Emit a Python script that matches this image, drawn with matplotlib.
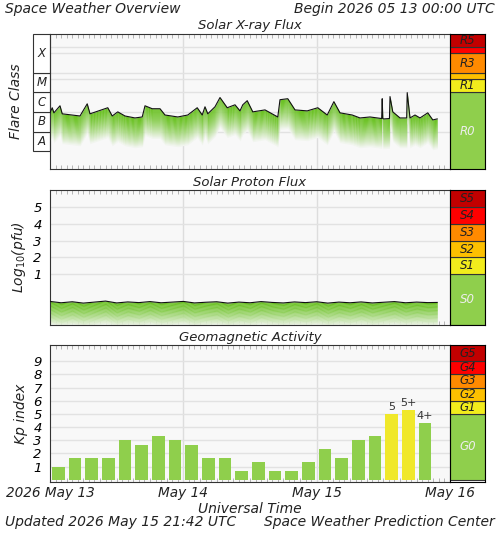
import numpy as np
import matplotlib
matplotlib.use('Agg')
import matplotlib.pyplot as plt
from matplotlib.patches import Rectangle
import matplotlib.transforms as mtrans

# X-ray flux, log10(W/m2), hours since 2026-05-13 00:00
xray_hours = [0, 0.4, 0.7, 1.8, 2.2, 5.4, 6.7, 7.2, 10.4, 11.2, 12.2, 13.5, 15.3, 16.6, 17.1,
              18.4, 19.8, 20.7, 23.0, 24.8, 26.5, 27.4, 27.9, 28.4, 29.7, 30.6, 31.9, 33.3,
              34.2, 34.7, 35.5, 36.5, 38.7, 41.0, 41.4, 42.8, 44.1, 46.3, 48.2, 49.9, 51.1,
              52.2, 54.4, 55.8, 57.6, 59.7, 59.8, 59.9, 60.1, 61.1, 61.2, 61.7, 63.0, 64.2,
              64.3, 64.8, 65.7, 66.6, 68.0, 68.9, 69.7]
xray_flux = [-6.04, -5.78, -6.04, -5.68, -6.09, -6.20, -5.58, -6.09, -5.78, -6.20, -5.99, -6.20,
             -6.30, -6.25, -5.68, -5.83, -5.83, -6.15, -6.25, -6.15, -5.78, -6.15, -5.73, -6.09,
             -5.73, -5.26, -5.78, -5.63, -5.94, -5.63, -5.42, -5.99, -5.89, -6.25, -5.37, -5.32,
             -5.89, -5.94, -5.78, -6.15, -5.47, -6.04, -6.15, -6.30, -6.25, -6.33, -5.32, -6.33,
             -6.35, -6.33, -5.21, -5.99, -6.30, -6.30, -5.01, -6.30, -6.15, -6.30, -6.04, -6.40,
             -6.35]

# proton flux, log10(pfu)
proton_hours = [0, 2, 4, 6, 8, 10, 12, 14, 16, 18, 20, 22, 24, 26, 28, 30, 32, 34, 36, 38,
                40, 42, 44, 46, 48, 50, 52, 54, 56, 58, 60, 62, 64, 66, 68, 69.7]
proton_flux = [-0.62, -0.70, -0.64, -0.72, -0.66, -0.60, -0.71, -0.65, -0.69, -0.63, -0.70,
               -0.66, -0.62, -0.71, -0.67, -0.64, -0.72, -0.66, -0.70, -0.63, -0.68, -0.71,
               -0.65, -0.69, -0.64, -0.72, -0.66, -0.70, -0.65, -0.71, -0.67, -0.63, -0.70,
               -0.66, -0.69, -0.68]

kp_values = [1.0, 1.67, 1.67, 1.67, 3.0, 2.67, 3.33, 3.0, 2.67, 1.67, 1.67, 0.67, 1.33, 0.67,
             0.67, 1.33, 2.33, 1.67, 3.0, 3.33, 5.0, 5.33, 4.33]
kp_labels = {20: "5", 21: "5+", 22: "4+"}

GREEN = '#8fcf4c'
FONT = dict(style='italic', color='#222222')

r_scale = [("R0", -9, -5, GREEN), ("R1", -5, -4.3, '#f2ec1c'), ("", -4.3, -4, '#fdc000'),
           ("R3", -4, -3, '#ff8a00'), ("", -3, -2.7, '#ff0000'), ("R5", -2.7, -2, '#c20000')]
s_scale = [("S0", -2, 1, GREEN), ("S1", 1, 2, '#f2ec1c'), ("S2", 2, 3, '#fdc000'),
           ("S3", 3, 4, '#ff8a00'), ("S4", 4, 5, '#ff0000'), ("S5", 5, 6, '#c20000')]
g_scale = [("G0", 0, 5, GREEN), ("G1", 5, 6, '#f2ec1c'), ("G2", 6, 7, '#fdc000'),
           ("G3", 7, 8, '#ff8a00'), ("G4", 8, 9, '#ff0000'), ("G5", 9, 10.2, '#c20000')]

fig = plt.figure(figsize=(5, 5.33), dpi=100)

panels = [(0.683, 0.254), (0.391, 0.252), (0.095, 0.257)]
axes = []
strips = []
for b, h in panels:
    ax = fig.add_axes([0.10, b, 0.80, h])
    st = fig.add_axes([0.90, b, 0.07, h])
    axes.append(ax)
    strips.append(st)


def style_time_axis(ax):
    ax.set_facecolor('#f8f8f8')
    ax.set_xlim(0, 72)
    ax.set_xticks([24, 48])
    ax.set_xticks(np.arange(0, 73, 1), minor=True)
    ax.tick_params(axis='x', which='both', direction='in', top=True, length=3, color='#aaaaaa',
                   labelbottom=False)
    ax.tick_params(axis='x', which='major', length=0)
    for x in [24, 48]:
        ax.axvline(x, color='#dddddd', lw=1, zorder=0)
    for s in ax.spines.values():
        s.set_color('#333333')


def gradient_fill(ax, x, y, depth, n=30):
    # green shading under the curve that fades out with distance below it
    x = np.array(x)
    y = np.array(y)
    step = depth / n
    top = np.array([0.42, 0.76, 0.14])
    bg = np.array([0.97, 0.97, 0.97])
    for k in range(n):
        f = (k / n) ** 1.3
        c = top * (1 - f) + bg * f
        ax.fill_between(x, y - k * step, y - (k + 1) * step - step * 0.3, color=c, lw=0,
                        antialiased=False, zorder=2)


def draw_strip(st, scale, lo, hi):
    st.set_xlim(0, 1)
    st.set_ylim(lo, hi)
    st.set_xticks([])
    st.set_yticks([])
    for name, a, b, c in scale:
        st.add_patch(Rectangle((0, a), 1, b - a, facecolor=c, edgecolor='#333333', lw=0.8))
        if name:
            col = '#eeeeee' if name.endswith('0') else '#222222'
            st.text(0.5, (a + b) / 2, name, ha='center', va='center', fontsize=8.5,
                    style='italic', color=col)


# X-ray panel
ax = axes[0]
style_time_axis(ax)
ax.set_ylim(-8.9, -2)
ax.set_yticks([])
for yy in [-7, -6, -5, -4, -3, -4.3, -2.7]:
    ax.axhline(yy, color='#e2e2e2', lw=1, zorder=0)
gradient_fill(ax, xray_hours, xray_flux, 1.5)
ax.plot(xray_hours, xray_flux, color='#111111', lw=0.8, zorder=3)
ax.set_title("Solar X-ray Flux", fontsize=9.5, pad=3, **FONT)
tr = mtrans.blended_transform_factory(ax.transAxes, ax.transData)
for name, a, b in [("A", -8, -7), ("B", -7, -6), ("C", -6, -5), ("M", -5, -4), ("X", -4, -2)]:
    ax.add_patch(Rectangle((-0.043, a), 0.043, b - a, transform=tr, facecolor='white',
                           edgecolor='#333333', lw=0.8, clip_on=False))
    ax.text(-0.0215, (a + b) / 2, name, transform=tr, ha='center', va='center', fontsize=8.5,
            **FONT)
ax.text(-0.085, 0.5, "Flare Class", transform=ax.transAxes, rotation=90, ha='center',
        va='center', fontsize=10, **FONT)
draw_strip(strips[0], r_scale, -8.9, -2)

# proton panel
ax = axes[1]
style_time_axis(ax)
ax.set_ylim(-2, 6)
ax.set_yticks([1, 2, 3, 4, 5])
ax.set_yticklabels(["1", "2", "3", "4", "5"], fontsize=9.5, style='italic')
ax.tick_params(axis='y', length=0, pad=6)
for yy in [1, 2, 3, 4, 5]:
    ax.axhline(yy, color='#e2e2e2', lw=1, zorder=0)
gradient_fill(ax, proton_hours, proton_flux, 1.4)
ax.plot(proton_hours, proton_flux, color='#111111', lw=0.8, zorder=3)
ax.set_title("Solar Proton Flux", fontsize=9.5, pad=3, **FONT)
ax.set_ylabel("Log$_{10}$(pfu)", fontsize=10, labelpad=4, **FONT)
draw_strip(strips[1], s_scale, -2, 6)

# Kp panel
ax = axes[2]
style_time_axis(ax)
ax.set_ylim(-0.2, 10.2)
ax.set_yticks(range(1, 10))
ax.set_yticklabels([str(i) for i in range(1, 10)], fontsize=9.5, style='italic')
ax.tick_params(axis='y', length=0, pad=6)
for yy in range(1, 10):
    ax.axhline(yy, color='#e2e2e2', lw=1, zorder=0)
kp_x = np.arange(len(kp_values)) * 3 + 1.5
kp_colors = ['#f0e82a' if v >= 5 else GREEN for v in kp_values]
ax.bar(kp_x, kp_values, width=2.3, bottom=0, color=kp_colors, zorder=2)
for i, lab in kp_labels.items():
    ax.text(kp_x[i], kp_values[i] + 0.15, lab, ha='center', va='bottom', fontsize=8,
            color='#333333')
ax.set_title("Geomagnetic Activity", fontsize=9.5, pad=3, **FONT)
ax.set_ylabel("Kp index", fontsize=10, labelpad=4, **FONT)
draw_strip(strips[2], g_scale, -0.2, 10.2)
for x, lab in [(0, "2026 May 13"), (24, "May 14"), (48, "May 15"), (72, "May 16")]:
    ax.text(x / 72, -0.03, lab, transform=ax.transAxes, ha='center', va='top',
            fontsize=9.8, **FONT)
ax.text(0.5, -0.14, "Universal Time", transform=ax.transAxes, ha='center', va='top',
        fontsize=10, **FONT)

fig.text(0.01, 0.983, "Space Weather Overview", ha='left', va='center', fontsize=10, **FONT)
fig.text(0.99, 0.983, "Begin 2026 05 13 00:00 UTC", ha='right', va='center', fontsize=10, **FONT)
fig.text(0.01, 0.02, "Updated 2026 May 15 21:42 UTC", ha='left', va='center', fontsize=10,
         **FONT)
fig.text(0.99, 0.02, "Space Weather Prediction Center", ha='right', va='center', fontsize=10,
         **FONT)

fig.savefig("out.png", dpi=100, facecolor='white')
